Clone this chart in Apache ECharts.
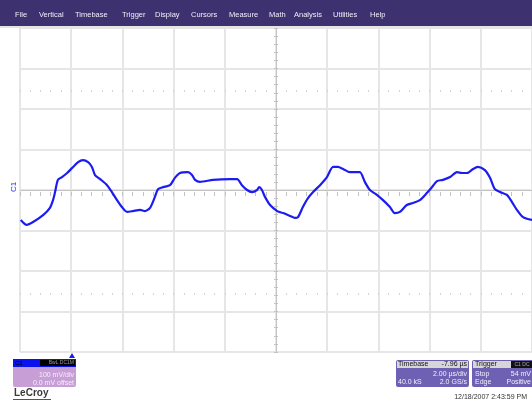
<!DOCTYPE html>
<html>
<head>
<meta charset="utf-8">
<script src="https://cdn.jsdelivr.net/npm/echarts@6/dist/echarts.min.js"></script>
<style>
  html, body { margin: 0; padding: 0; background: #fff; }
  #chart { width: 532px; height: 405px; }
</style>
</head>
<body>
<div id="chart"></div>
<script>
// trace C1, time in us (trigger at 0), volts in mV
var timeUs = [-1.97, -1.74, -1.49, -1.10, -0.83, -0.71, -0.63, -0.52, -0.36, -0.16,
  0.03, 0.27, 0.46, 0.66, 0.81, 0.93, 1.13, 1.40, 1.59, 1.79,
  1.98, 2.18, 2.41, 2.69, 2.88, 3.08, 3.27, 3.39, 3.59, 3.86,
  4.05, 4.25, 4.56, 4.72, 4.84, 5.03, 5.54, 6.20, 6.48, 6.67,
  6.87, 7.06, 7.26, 7.34, 7.45, 7.57, 7.77, 8.05, 8.28, 8.55,
  8.74, 8.86, 9.05, 9.25, 9.45, 9.72, 9.99, 10.23, 10.42, 10.62,
  10.89, 11.16, 11.28, 11.47, 11.67, 11.94, 12.18, 12.45, 12.64, 12.84,
  13.11, 13.35, 13.62, 13.90, 14.09, 14.29, 14.52, 14.80, 15.07, 15.27,
  15.46, 15.70, 15.89, 16.16, 16.36, 16.55, 16.75, 17.02, 17.22, 17.41,
  17.65, 18.0];
var voltMv = [-74, -86, -79, -62, -44, -25, -5, 25, 32, 42,
  54, 69, 74, 69, 57, 37, 27, 12, -5, -25,
  -42, -54, -52, -49, -52, -44, -17, 2, 7, 12,
  30, 42, 44, 37, 25, 20, 25, 27, 27, 12,
  0, -5, 0, 7, 0, -17, -37, -52, -57, -64,
  -69, -67, -42, -20, -5, 12, 32, 57, 57, 52,
  44, 44, 44, 20, 0, -12, -25, -42, -57, -54,
  -37, -32, -25, -7, 7, 22, 25, 32, 44, 42,
  42, 52, 57, 49, 30, 2, -5, -12, -30, -49,
  -67, -74];

var menuItems = ['File', 'Vertical', 'Timebase', 'Trigger', 'Display', 'Cursors',
  'Measure', 'Math', 'Analysis', 'Utilities', 'Help'];
var menuX = [15, 39, 75, 122, 155, 191, 229, 269, 294, 333, 370];

var chanLabel = 'C1';
var chanFlags = 'BwL DC1M';
var chanScale = '100 mV/div';
var chanOffset = '0.0 mV offset';
var tbDelay = '-7.96 \u00b5s';
var tbScale = '2.00 \u00b5s/div';
var tbSamples = '40.0 kS';
var tbRate = '2.0 GS/s';
var trigSrc = 'C1 DC';
var trigMode = 'Stop';
var trigLevel = '54 mV';
var trigType = 'Edge';
var trigSlope = 'Positive';
var stamp = '12/18/2007 2:43:59 PM';

var tMin = -2, tMax = 18, tDiv = 2;
var vMin = -400, vMax = 400, vDiv = 100;

var trace = timeUs.map(function (t, i) { return [t, voltMv[i]]; });

var chart = echarts.init(document.getElementById('chart'));

var font = 'Liberation Sans, Arial, sans-serif';
var gridCol = '#e6e6e6';
var tickCol = '#c2c2c2';

function hiddenAxis(idx, extra) {
  return Object.assign({
    type: 'value', gridIndex: idx, min: 0, max: 1,
    axisLine: { show: false }, axisTick: { show: false },
    axisLabel: { show: false }, splitLine: { show: false }
  }, extra || {});
}
// axis used only to draw small tick marks
function tickAxis(idx, pos, min, max, step, len, col) {
  return {
    type: 'value', gridIndex: idx, position: pos, min: min, max: max, interval: step,
    axisLine: { show: false },
    axisTick: { show: true, inside: true, length: len, lineStyle: { color: col, width: 1 } },
    axisLabel: { show: false }, splitLine: { show: false }
  };
}

var menuGraphics = menuItems.map(function (m, i) {
  return { type: 'text', x: menuX[i], y: 15, style: { text: m, fill: '#f0eef8', font: '7.5px ' + font, textVerticalAlign: 'middle' } };
});

function txt(x, y, s, align, col, size) {
  return { type: 'text', x: x, y: y, z: 20, style: { text: s, fill: col, font: (size || 7) + 'px ' + font, textAlign: align, textVerticalAlign: 'middle' } };
}

var option = {
  backgroundColor: '#ffffff',
  animation: false,
  grid: [
    { left: 20, top: 28, width: 512, height: 324 },
    { left: 20, top: 188, width: 512, height: 4 },   // centre h-line ticks
    { left: 274, top: 28, width: 4, height: 324 },   // centre v-line ticks
    { left: 20, top: 88, width: 512, height: 2 },    // dotted row
    { left: 20, top: 291, width: 512, height: 2 }    // dotted row
  ],
  xAxis: [
    {
      type: 'value', gridIndex: 0, min: tMin, max: tMax, interval: tDiv,
      axisLine: { show: false }, axisTick: { show: false }, axisLabel: { show: false },
      splitLine: { show: true, lineStyle: { color: gridCol, width: 2 } }
    },
    tickAxis(1, 'top', tMin, tMax, 0.4, 4, tickCol),
    hiddenAxis(2),
    tickAxis(3, 'top', tMin, tMax, 0.4, 2, '#d4d4d4'),
    tickAxis(4, 'top', tMin, tMax, 0.4, 2, '#d4d4d4')
  ],
  yAxis: [
    {
      type: 'value', gridIndex: 0, min: vMin, max: vMax, interval: vDiv,
      axisLine: { show: false }, axisTick: { show: false }, axisLabel: { show: false },
      splitLine: { show: true, lineStyle: { color: gridCol, width: 2 } }
    },
    hiddenAxis(1),
    tickAxis(2, 'left', vMin, vMax, 20, 4, tickCol),
    hiddenAxis(3),
    hiddenAxis(4)
  ],
  series: [{
    type: 'line',
    xAxisIndex: 0, yAxisIndex: 0,
    data: trace,
    showSymbol: false,
    smooth: 0.25,
    z: 10,
    lineStyle: { color: '#1c1cf0', width: 2.2 },
    markLine: {
      silent: true, symbol: 'none', label: { show: false },
      lineStyle: { color: '#c4c4c4', width: 1, type: 'solid' },
      data: [{ xAxis: 8 }, { yAxis: 0 }]
    }
  }],
  graphic: [
    { type: 'rect', shape: { x: 0, y: 0, width: 532, height: 26 }, style: { fill: '#3d3170' } },
    { type: 'rect', shape: { x: 0, y: 26, width: 532, height: 2 }, style: { fill: '#e4e4e4' } },
    { type: 'text', x: 14, y: 187, rotation: Math.PI / 2, style: { text: chanLabel, fill: '#2a2af0', font: '8px ' + font, textAlign: 'center', textVerticalAlign: 'middle' } },
    { type: 'polygon', shape: { points: [[72, 353], [69, 358], [75, 358]] }, style: { fill: '#1c1cf0' } },
    // channel box
    { type: 'rect', shape: { x: 13, y: 359, width: 63, height: 28, r: 2 }, style: { fill: '#c79fd6' } },
    { type: 'rect', shape: { x: 13, y: 359, width: 63, height: 8 }, style: { fill: '#0c12ee' } },
    { type: 'rect', shape: { x: 40, y: 360, width: 35, height: 6 }, style: { fill: '#000000' } },
    txt(15, 363, chanLabel, 'left', '#000', 6),
    txt(74, 363, chanFlags, 'right', '#9a9aa8', 5),
    txt(74, 375, chanScale, 'right', '#f6eefa'),
    txt(74, 383, chanOffset, 'right', '#f6eefa'),
    // timebase box
    { type: 'rect', shape: { x: 396, y: 360, width: 73, height: 27, r: 2 }, style: { fill: '#6e60b2' } },
    { type: 'rect', shape: { x: 397, y: 361, width: 71, height: 7 }, style: { fill: '#d6d6d6' } },
    txt(398, 364.5, 'Timebase', 'left', '#111'),
    txt(467, 364.5, tbDelay, 'right', '#111'),
    txt(467, 374, tbScale, 'right', '#f2f0fa'),
    txt(398, 382, tbSamples, 'left', '#f2f0fa'),
    txt(467, 382, tbRate, 'right', '#f2f0fa'),
    // trigger box
    { type: 'rect', shape: { x: 472, y: 360, width: 64, height: 27, r: 2 }, style: { fill: '#6e60b2' } },
    { type: 'rect', shape: { x: 473, y: 361, width: 62, height: 7 }, style: { fill: '#d6d6d6' } },
    { type: 'rect', shape: { x: 511, y: 361, width: 22, height: 7 }, style: { fill: '#111111' } },
    txt(475, 364.5, 'Trigger', 'left', '#111'),
    txt(522, 364.5, trigSrc, 'center', '#aaa', 5),
    txt(475, 374, trigMode, 'left', '#f2f0fa'),
    txt(531, 374, trigLevel, 'right', '#f2f0fa'),
    txt(475, 382, trigType, 'left', '#f2f0fa'),
    txt(531, 382, trigSlope, 'right', '#f2f0fa'),
    txt(527, 397, stamp, 'right', '#333', 7),
    // logo
    { type: 'text', x: 14, y: 393, style: { text: 'LeCroy', fill: '#3a3a3a', font: 'bold 10px ' + font, textVerticalAlign: 'middle' } },
    { type: 'rect', shape: { x: 13, y: 399, width: 38, height: 1 }, style: { fill: '#555' } }
  ].concat(menuGraphics)
};

chart.setOption(option);
</script>
</body>
</html>
